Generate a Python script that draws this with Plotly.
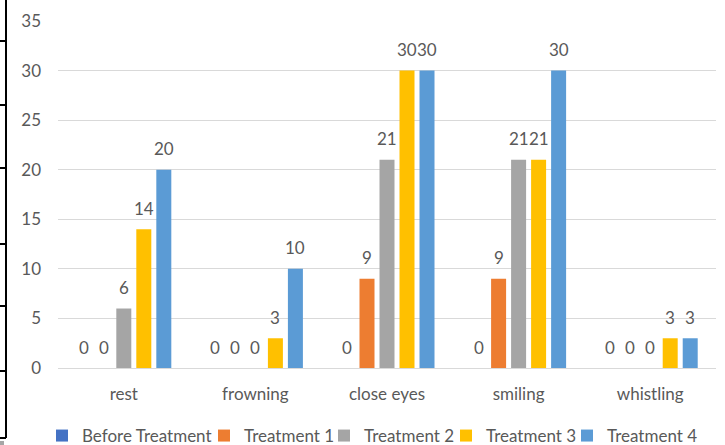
import plotly.graph_objects as go

# Data
categories = ["rest", "frowning", "close eyes", "smiling", "whistling"]
series_names = ["Before Treatment", "Treatment 1", "Treatment 2", "Treatment 3", "Treatment 4"]
before_treatment = [0, 0, 0, 0, 0]
treatment_1 = [0, 0, 9, 9, 0]
treatment_2 = [6, 0, 21, 21, 0]
treatment_3 = [14, 3, 30, 21, 3]
treatment_4 = [20, 10, 30, 30, 3]
series_values = [before_treatment, treatment_1, treatment_2, treatment_3, treatment_4]
colors = ["#4472C4", "#ED7D31", "#A5A5A5", "#FFC000", "#5B9BD5"]
y_ticks = [0, 5, 10, 15, 20, 25, 30, 35]

FONT = "Lato"
TEXT_COLOR = "#595959"
FS = 17

W, H = 725, 445
ML, MR, MT, MB = 58, 9, 21, 77
PLOT_W = W - ML - MR
PLOT_H = H - MT - MB
BARGAP = 0.24

# Legend entries laid out in one row below the category labels (left px of each entry)
legend_left_px = [42, 204, 324, 446, 567]
LEGEND_Y_PX = 436

fig = go.Figure()
legend_ids = ["legend"] + [f"legend{i}" for i in range(2, len(series_names) + 1)]
for name, vals, col, lid in zip(series_names, series_values, colors, legend_ids):
    fig.add_trace(go.Bar(
        x=categories, y=vals, name=name, legend=lid,
        marker=dict(color=col, line=dict(width=0)),
    ))

# Value labels above each bar (zero values sit just above the baseline)
n = len(series_names)
slot = (1 - BARGAP) / n
annotations = []
for si, vals in enumerate(series_values):
    for ci, v in enumerate(vals):
        annotations.append(dict(
            x=ci + (si - (n - 1) / 2) * slot, y=v, xref="x", yref="y",
            text=str(v), showarrow=False, yshift=21, yanchor="middle",
            font=dict(family=FONT, size=FS, color=TEXT_COLOR),
        ))

# Border lines along the left edge (pixel positions relative to the plot area)
shapes = []
def px_line(x0, y0, x1, y1, color="black", width=2):
    shapes.append(dict(
        type="line", xref="paper", yref="paper",
        xsizemode="pixel", ysizemode="pixel", xanchor=0, yanchor=1,
        x0=x0 - ML, x1=x1 - ML, y0=MT - y0, y1=MT - y1,
        line=dict(color=color, width=width),
    ))

px_line(6, -2, 6, 438)
for yy in [41, 105, 168, 244, 306, 371, 438]:
    px_line(-2, yy, 6, yy)
shapes.append(dict(
    type="rect", xref="paper", yref="paper",
    xsizemode="pixel", ysizemode="pixel", xanchor=0, yanchor=1,
    x0=0 - ML - 2, x1=4 - ML, y0=MT - 441, y1=MT - 447,
    fillcolor="#A6A6A6", line=dict(width=0),
))

legend_layout = {}
for lid, lpx in zip(legend_ids, legend_left_px):
    legend_layout[lid] = dict(
        orientation="h", x=(lpx - ML) / PLOT_W, xanchor="left",
        y=(MT + PLOT_H - LEGEND_Y_PX) / PLOT_H, yanchor="middle",
        font=dict(family=FONT, size=FS, color=TEXT_COLOR),
        itemwidth=30, bgcolor="rgba(0,0,0,0)", borderwidth=0,
    )

fig.update_layout(
    width=W, height=H,
    margin=dict(l=ML, r=MR, t=MT, b=MB, autoexpand=False),
    paper_bgcolor="white", plot_bgcolor="white",
    barmode="group", bargap=BARGAP, bargroupgap=0.25,
    font=dict(family=FONT, size=FS, color=TEXT_COLOR),
    annotations=annotations,
    shapes=shapes,
    showlegend=True,
    xaxis=dict(
        showgrid=False, showline=True, linecolor="#D9D9D9", linewidth=1,
        ticks="", ticklabelstandoff=11,
        tickfont=dict(family=FONT, size=FS, color=TEXT_COLOR),
    ),
    yaxis=dict(
        range=[0, 35], tickvals=y_ticks, showgrid=True,
        gridcolor="#D9D9D9", gridwidth=1, zeroline=False,
        ticks="", ticklabelstandoff=16,
        tickfont=dict(family=FONT, size=FS, color=TEXT_COLOR),
    ),
    **legend_layout,
)

fig.write_html("out.html")
